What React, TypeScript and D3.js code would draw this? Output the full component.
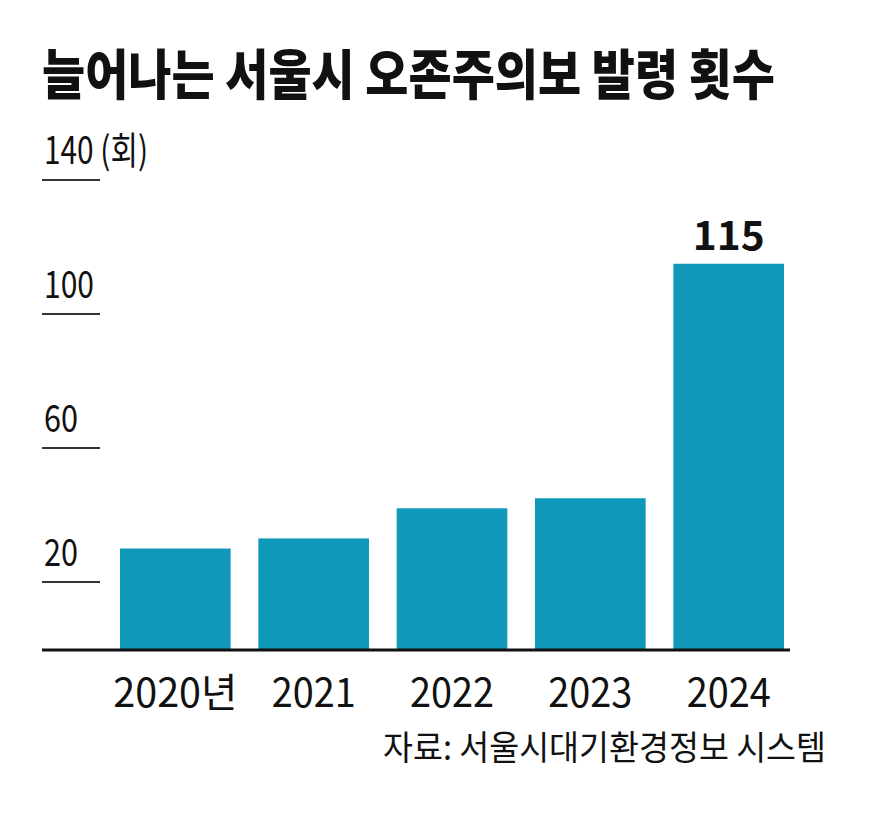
import React from "react";
import * as d3 from "d3";

const title = "늘어나는 서울시 오존주의보 발령 횟수";
const years = ["2020년", "2021", "2022", "2023", "2024"];
const counts = [30, 33, 42, 45, 115];
const yTicks = [20, 60, 100, 140];
const unitLabel = "(회)";
const highlightIndex = 4;
const source = "자료: 서울시대기환경정보 시스템";

const FONT = "'Noto Sans CJK KR', 'Noto Sans', sans-serif";
const BAR = "#0f98ba";

export default function App() {
  const W = 870, H = 815;
  const x = d3.scaleBand<string>().domain(years).range([120, 784]).paddingInner(0.2).paddingOuter(0);
  const y = d3.scaleLinear().domain([0, 140]).range([649, 180]);
  const base = y(0);

  return (
    <svg width={W} height={H} style={{ position: "fixed", left: 0, top: 0, background: "#fff" }}>
      <rect width={W} height={H} fill="#fff" />
      <g transform="translate(42,95) scale(1,1.32)">
        <text x={0} y={0} fontFamily={FONT} fontWeight={900} fontSize={41} fill="#111"
          textLength={733} lengthAdjust="spacingAndGlyphs">{title}</text>
      </g>

      {yTicks.map((t) => (
        <g key={t}>
          <line x1={42} x2={100} y1={y(t)} y2={y(t)} stroke="#333" strokeWidth={2} />
          <text x={44} y={y(t) - 16} fontFamily={FONT} fontSize={38} fill="#111"
            textLength={t === 140 ? 104 : t >= 100 ? 50 : 34} lengthAdjust="spacingAndGlyphs">
            {t === 140 ? `${t} ${unitLabel}` : `${t}`}
          </text>
        </g>
      ))}

      {years.map((yr, i) => (
        <rect key={yr} x={x(yr)} y={y(counts[i])} width={x.bandwidth()} height={base - y(counts[i])} fill={BAR} />
      ))}

      <line x1={42} x2={790} y1={base + 1} y2={base + 1} stroke="#111" strokeWidth={3} />

      {years.map((yr, i) => {
        const cx = (x(yr) as number) + x.bandwidth() / 2;
        const len = i === 0 ? 124 : 84;
        return (
          <text key={yr} x={cx - len / 2} y={707} fontFamily={FONT} fontSize={40} fill="#111"
            textLength={len} lengthAdjust="spacingAndGlyphs">{yr}</text>
        );
      })}

      {(() => {
        const yr = years[highlightIndex];
        const cx = (x(yr) as number) + x.bandwidth() / 2;
        return (
          <text x={cx - 36} y={y(counts[highlightIndex]) - 14} fontFamily={FONT} fontWeight={700}
            fontSize={40} fill="#111" textLength={72} lengthAdjust="spacingAndGlyphs">
            {counts[highlightIndex]}
          </text>
        );
      })()}

      <text x={383} y={760} fontFamily={FONT} fontSize={34} fill="#111"
        textLength={443} lengthAdjust="spacingAndGlyphs">{source}</text>
    </svg>
  );
}
